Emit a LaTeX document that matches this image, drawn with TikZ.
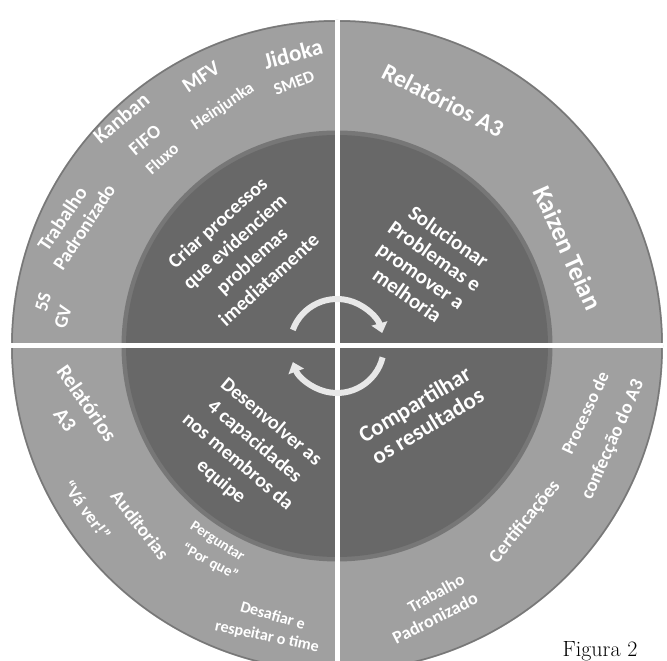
\documentclass[tikz,border=0pt]{standalone}
\usepackage{fontspec}
\newfontfamily\calfont{Carlito}
\usetikzlibrary{arrows.meta}

\definecolor{ringgray}{RGB}{160,160,160}
\definecolor{coregray}{RGB}{104,104,104}
\definecolor{arrowgray}{RGB}{232,232,232}

\tikzset{
  lbl/.style 2 args={text=white, align=center, inner sep=0pt,
    font=\calfont\bfseries\fontsize{#1}{#2}\selectfont},
  divider/.style={white, line width=5pt},
  cycarrow/.style={arrowgray, line width=6pt, -{Triangle[width=16pt,length=10pt]}}
}

\begin{document}
\begin{tikzpicture}[x=1pt, y=1pt]
    \useasboundingbox (0,0) rectangle (667,661);
    \coordinate (c) at (337,315);

    % Draw the outer ring and the inner disc
    \fill[ringgray] (c) circle (326pt);
    \draw[ringgray!75!black, line width=1.5pt] (c) circle (325pt);
    \draw[black, opacity=0.25, line width=5pt] (c) circle (213pt);
    \fill[coregray] (c) circle (211pt);

    % Split the circle into quadrants
    \begin{scope}
        \clip (c) circle (326pt);
        \draw[divider] ([yshift=-330pt]c) -- ([yshift=330pt]c);
        \draw[divider] ([xshift=-330pt]c) -- ([xshift=330pt]c);
    \end{scope}

    % Cycle arrows in the middle
    \draw[cycarrow] (c) ++(160:47pt) arc[start angle=160, end angle=16, radius=47pt];
    \draw[cycarrow] (c) ++(-14:47pt) arc[start angle=-14, end angle=-160, radius=47pt];

    % Inner labels
    \node (criar) at (243,410) [lbl={20}{25.5}, rotate=42] {Criar processos\\que evidenciem\\problemas\\imediatamente};
    \node (solucionar) at (428,395) [lbl={21}{24}, rotate=-35] {Solucionar\\Problemas e\\promover a\\melhoria};
    \node (desenvolver) at (246,209) [lbl={20}{26}, rotate=-40] {Desenvolver as\\4 capacidades\\nos membros da\\equipe};
    \node (compartilhar) at (421,246) [lbl={23}{25}, rotate=31] {Compartilhar\\os resultados};

    % Outer labels, top left
    \node (jidoka) at (293,607) [lbl={23}{23}, rotate=15] {Jidoka};
    \node (mfv) at (201,584) [lbl={21}{21}, rotate=34] {MFV};
    \node (smed) at (294,578) [lbl={17}{17}, rotate=21] {SMED};
    \node (heinjunka) at (223,554) [lbl={17}{17}, rotate=34] {Heinjunka};
    \node (kanban) at (121,543) [lbl={21}{21}, rotate=40] {Kanban};
    \node (fifo) at (145,521) [lbl={19}{19}, rotate=40] {FIFO};
    \node (fluxo) at (162,502) [lbl={17}{17}, rotate=42] {Fluxo};
    \node (trabalhoA) at (62,442) [lbl={20}{20}, rotate=56] {Trabalho};
    \node (padronizadoA) at (84,434) [lbl={19}{19}, rotate=57] {Padronizado};
    \node (cincoS) at (43,359) [lbl={19}{19}, rotate=75] {5S};
    \node (gv) at (63,344) [lbl={19}{19}, rotate=75] {GV};

    % Outer labels, top right
    \node (relatoriosA) at (443,561) [lbl={24}{24}, rotate=-27] {Relatórios A3};
    \node (kaizen) at (568,413) [lbl={26}{26}, rotate=-66] {Kaizen Teian};

    % Outer labels, bottom left
    \node (relatoriosB) at (87,258) [lbl={21}{21}, rotate=-55] {Relatórios};
    \node (aTres) at (65,241) [lbl={21}{21}, rotate=-55] {A3};
    \node (vaver) at (87,151) [lbl={18}{18}, rotate=-54] {“Vá ver!”};
    \node (auditorias) at (140,136) [lbl={19}{19}, rotate=-52] {Auditorias};
    \node (perguntar) at (217,119) [lbl={15}{15}, rotate=-33] {Perguntar};
    \node (porque) at (210,99) [lbl={15}{15}, rotate=-28] {“Por que”};
    \node (desafiar) at (273,46) [lbl={16}{16}, rotate=-16] {Desafiar e};
    \node (respeitar) at (267,24) [lbl={16}{16}, rotate=-12] {respeitar o time};

    % Outer labels, bottom right
    \node (processo) at (585,248) [lbl={18}{18}, rotate=65] {Processo de};
    \node (confeccao) at (613,221) [lbl={19}{19}, rotate=66] {confecção do A3};
    \node (certificacoes) at (525,139) [lbl={19}{19}, rotate=51] {Certificações};
    \node (trabalhoB) at (436,68) [lbl={17}{17}, rotate=29] {Trabalho};
    \node (padronizadoB) at (435,43) [lbl={18}{18}, rotate=27] {Padronizado};

    % Caption
    \node (figura) at (600,4) [anchor=base, inner sep=0pt, font=\fontsize{22}{22}\selectfont] {Figura 2};
\end{tikzpicture}
\end{document}
